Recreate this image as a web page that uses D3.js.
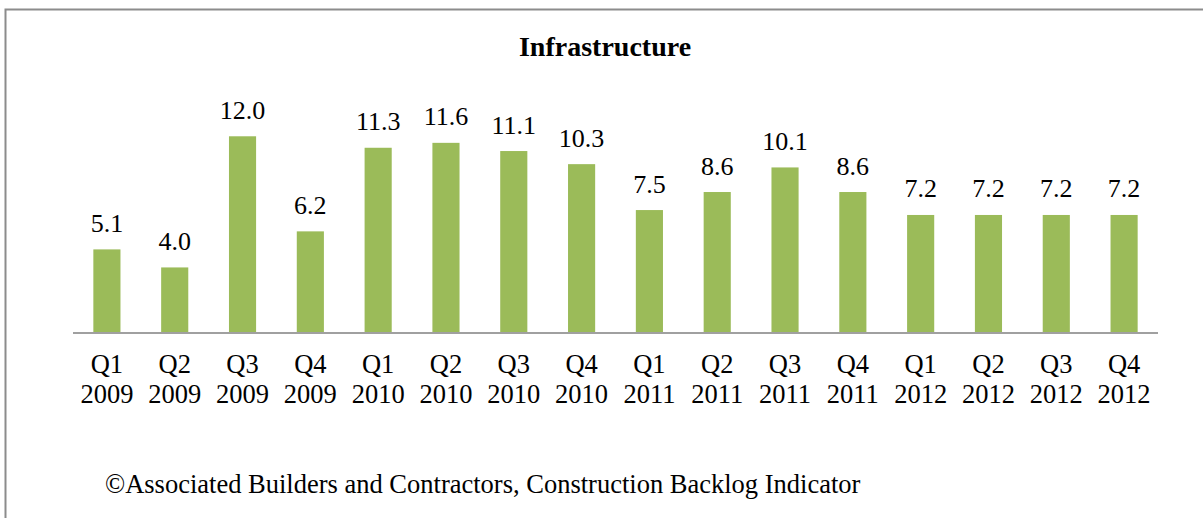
<!DOCTYPE html>
<html>
<head>
<meta charset="utf-8">
<script src="https://cdn.jsdelivr.net/npm/d3@7"></script>
<style>
  html, body { margin: 0; padding: 0; background: #fff; }
  svg { display: block; }
  text { font-family: "Liberation Serif", "Times New Roman", Times, serif; fill: #000; }
</style>
</head>
<body>
<svg id="chart" width="1203" height="518"></svg>
<script>
const quarters = ["Q1","Q2","Q3","Q4","Q1","Q2","Q3","Q4","Q1","Q2","Q3","Q4","Q1","Q2","Q3","Q4"];
const years = ["2009","2009","2009","2009","2010","2010","2010","2010","2011","2011","2011","2011","2012","2012","2012","2012"];
const values = [5.1, 4.0, 12.0, 6.2, 11.3, 11.6, 11.1, 10.3, 7.5, 8.6, 10.1, 8.6, 7.2, 7.2, 7.2, 7.2];
const titleText = "Infrastructure";
const footerText = "\u00A9Associated Builders and Contractors, Construction Backlog Indicator";

const svg = d3.select("#chart");
const W = 1203, H = 518;

// outer border (right/bottom edges run off the picture)
svg.append("rect")
  .attr("x", 5.5).attr("y", 9.5)
  .attr("width", W + 10).attr("height", H + 10)
  .attr("fill", "#fff").attr("stroke", "#8c8c8c").attr("stroke-width", 2);

const keys = values.map((d, i) => i);
const x = d3.scaleBand().domain(keys).range([73, 1158]).paddingInner(0.6).paddingOuter(0.3);
const y = d3.scaleLinear().domain([0, 14]).range([333, 103.5]);

svg.append("text")
  .attr("x", 605).attr("y", 56)
  .attr("text-anchor", "middle")
  .attr("font-size", 28).attr("font-weight", "bold")
  .text(titleText);

svg.selectAll("rect.bar").data(values).join("rect")
  .attr("class", "bar")
  .attr("x", (d, i) => x(i))
  .attr("width", x.bandwidth())
  .attr("y", d => y(d))
  .attr("height", d => y(0) - y(d))
  .attr("fill", "#9BBB59");

svg.selectAll("text.val").data(values).join("text")
  .attr("class", "val")
  .attr("x", (d, i) => x(i) + x.bandwidth() / 2)
  .attr("y", d => y(d) - 17.5)
  .attr("text-anchor", "middle")
  .attr("font-size", 26)
  .text(d => d3.format(".1f")(d));

// x axis
const xAxis = d3.axisBottom(x).tickSize(0).tickFormat("");
const gx = svg.append("g").attr("transform", `translate(0,${y(0)})`).call(xAxis);
gx.select(".domain").attr("stroke", "#a0a0a0").attr("stroke-width", 2).attr("d", "M73,0H1158");

gx.selectAll(".tick").each(function(d, i) {
  const g = d3.select(this);
  g.select("text").remove();
  const t = g.append("text").attr("text-anchor", "middle").attr("font-size", 26.5).attr("fill", "#000");
  t.append("tspan").attr("x", 0).attr("y", 40).text(quarters[i]);
  t.append("tspan").attr("x", 0).attr("y", 70).text(years[i]);
});

svg.append("text")
  .attr("x", 105).attr("y", 493)
  .attr("font-size", 26.5)
  .text(footerText);
</script>
</body>
</html>
